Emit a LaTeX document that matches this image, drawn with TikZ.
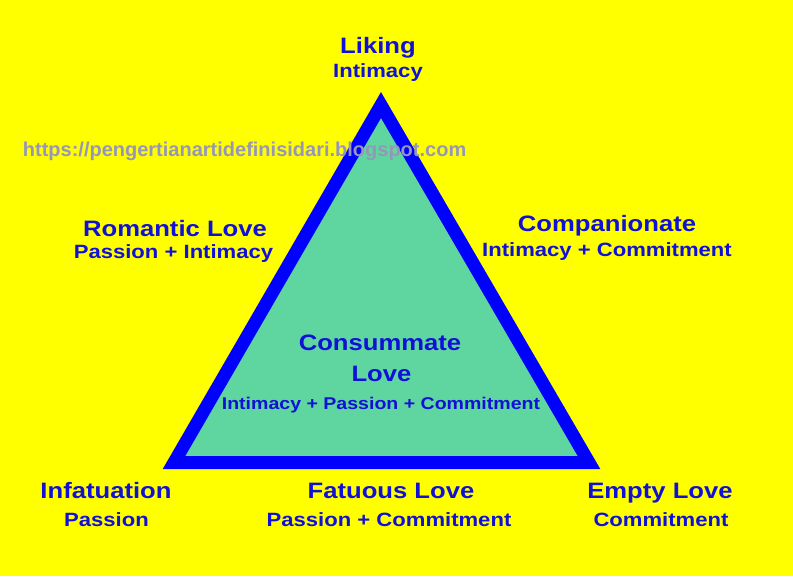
\documentclass[tikz,border=0pt]{standalone}
\usepackage{fontspec}
\newfontfamily\labfont{Liberation Sans}[FakeStretch=1.15]
\newfontfamily\urlfont{Liberation Sans}
\definecolor{bgyellow}{RGB}{255,255,0}
\definecolor{trifill}{RGB}{95,214,160}
\definecolor{triedge}{RGB}{0,0,255}
\definecolor{txtblue}{RGB}{16,16,215}
\definecolor{urlgray}{RGB}{150,150,185}
\tikzset{
  ttl/.style={font=\labfont\bfseries\fontsize{22.3}{22.3}\selectfont, text=txtblue, anchor=base, inner sep=0pt},
  subl/.style={font=\labfont\bfseries\fontsize{19.2}{19.2}\selectfont, text=txtblue, anchor=base, inner sep=0pt},
  smalll/.style={font=\labfont\bfseries\fontsize{17}{17}\selectfont, text=txtblue, anchor=base, inner sep=0pt},
  urlstyle/.style={font=\urlfont\bfseries\fontsize{20}{20}\selectfont, text=urlgray, anchor=base west, inner sep=0pt},
  tri/.style={draw=triedge, fill=trifill, line width=13pt, line join=miter}
}
\begin{document}
\begin{tikzpicture}[x=1pt,y=-1pt]
\fill[bgyellow] (0,0) rectangle (793,576);
\useasboundingbox (0,0) rectangle (793,576);
\coordinate (A) at (381,105);
\coordinate (B) at (174,462.5);
\coordinate (C) at (589,462.5);
\draw[tri] (A) -- (B) -- (C) -- cycle;
% top
\node[ttl] (liking) at (378,53) {Liking};
\node[subl] (likingsub) at (378,77) {Intimacy};
% left
\node[ttl] (romantic) at (175,236) {Romantic Love};
\node[subl] (romanticsub) at (173.5,258) {Passion + Intimacy};
% right
\node[ttl] (compan) at (607,231) {Companionate};
\node[subl] (compansub) at (607,256) {Intimacy + Commitment};
% bottom left
\node[ttl] (infat) at (106,498) {Infatuation};
\node[subl] (infatsub) at (106.5,526) {Passion};
% bottom middle
\node[ttl] (fatuous) at (391,498) {Fatuous Love};
\node[subl] (fatuoussub) at (389,526) {Passion + Commitment};
% bottom right
\node[ttl] (empty) at (660,498) {Empty Love};
\node[subl] (emptysub) at (661,526) {Commitment};
% centre
\node[ttl] (consum) at (380,350) {Consummate};
\node[ttl] (consumlove) at (381.5,381.5) {Love};
\node[smalll] (consumsub) at (381,409.3) {Intimacy + Passion + Commitment};
% watermark
\node[urlstyle] (url) at (22.7,156.7) {https://pengertianartidefinisidari.blogspot.com};
\end{tikzpicture}
\end{document}
